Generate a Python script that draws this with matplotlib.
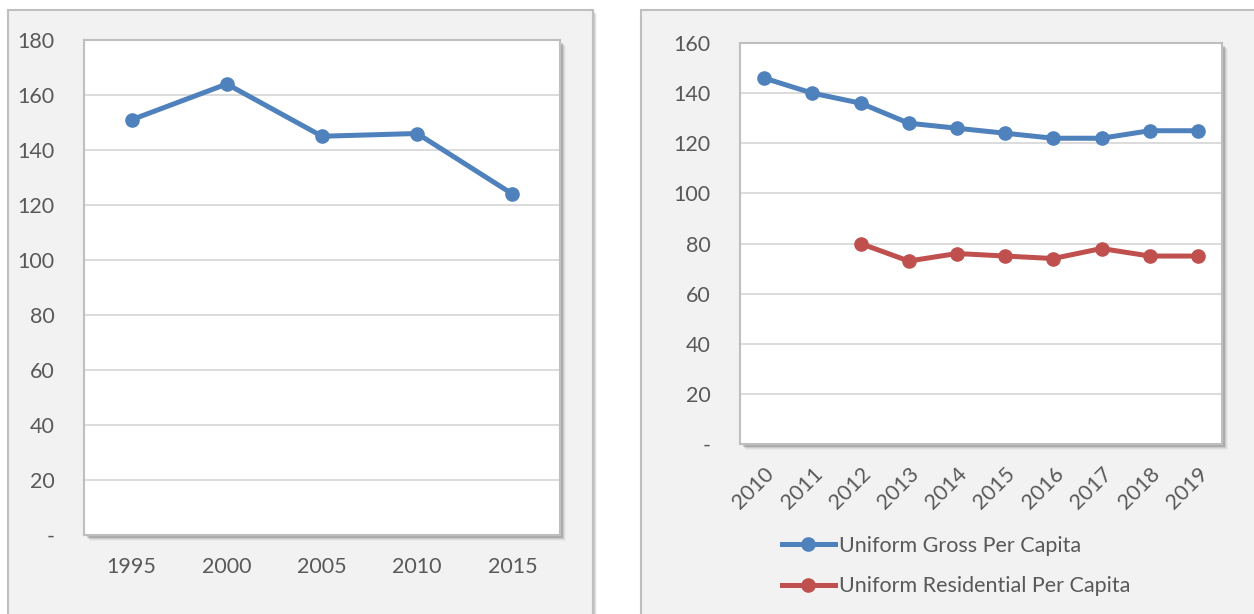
import matplotlib
matplotlib.use('Agg')
import matplotlib.pyplot as plt
from matplotlib.patches import Rectangle

# Dados
anos_esq = ['1995', '2000', '2005', '2010', '2015']
valores_esq = [151, 164, 145, 146, 124]

anos_dir = ['2010', '2011', '2012', '2013', '2014', '2015', '2016', '2017', '2018', '2019']
bruto_per_capita = [146, 140, 136, 128, 126, 124, 122, 122, 125, 125]
residencial_per_capita = [None, None, 80, 73, 76, 75, 74, 78, 75, 75]

W, H = 1254, 614
AZUL = '#4f81bd'
VERMELHO = '#c0504d'
TEXTO = '#595959'

plt.rcParams['font.family'] = ['Lato', 'DejaVu Sans']

fig = plt.figure(figsize=(W / 100, H / 100), dpi=100)
fig.patch.set_facecolor('white')


def px_rect(x0, y0, x1, y1):
    # converte pixels (origem no topo) para coordenadas da figura
    return [x0 / W, 1 - y1 / H, (x1 - x0) / W, (y1 - y0) / H]


def painel(x0, y0, x1, y1):
    # sombra e caixa do painel
    l, b, w, h = px_rect(x0, y0, x1, y1)
    for i, a in enumerate([0.10, 0.07, 0.04]):
        fig.patches.append(Rectangle((l + (i + 2) / W, b - (i + 2) / H), w, h,
                                     transform=fig.transFigure, facecolor='black',
                                     alpha=a, edgecolor='none', zorder=0))
    fig.patches.append(Rectangle((l, b), w, h, transform=fig.transFigure,
                                 facecolor='#f2f2f2', edgecolor='#bfbfbf',
                                 linewidth=1.5, zorder=1))


painel(8, 10, 593, 620)
painel(641, 10, 1265, 620)


def eixo(x0, y0, x1, y1):
    l, b, w, h = px_rect(x0, y0, x1, y1)
    for i, a in enumerate([0.14, 0.09, 0.05, 0.03]):
        fig.patches.append(Rectangle((l + (i + 3) / W, b - (i + 3) / H), w, h,
                                     transform=fig.transFigure, facecolor='black',
                                     alpha=a, edgecolor='none', zorder=2))
    ax = fig.add_axes([l, b, w, h], zorder=3)
    ax.set_facecolor('white')
    for s in ax.spines.values():
        s.set_color('#bfbfbf')
        s.set_linewidth(1.5)
    ax.grid(True, axis='y', color='#d9d9d9', linewidth=1.3)
    ax.set_axisbelow(True)
    ax.tick_params(length=0, colors=TEXTO, labelsize=15.5)
    return ax


def rotulo_y(v):
    return '-' if v == 0 else str(v)


# Painel esquerdo
ax1 = eixo(84, 40, 560, 535)
x1 = list(range(len(anos_esq)))
ax1.plot(x1, valores_esq, color=AZUL, linewidth=3.6, marker='o', markersize=9.5)
ax1.set_xlim(-0.5, len(anos_esq) - 0.5)
ax1.set_ylim(0, 180)
ticks1 = list(range(0, 181, 20))
ax1.set_yticks(ticks1)
ax1.set_yticklabels([rotulo_y(t) for t in ticks1])
ax1.set_xticks(x1)
ax1.set_xticklabels(anos_esq)
ax1.tick_params(axis='y', pad=21)
ax1.tick_params(axis='x', pad=16)

# Painel direito
ax2 = eixo(740, 43, 1222, 444)
x2 = list(range(len(anos_dir)))
g1, = ax2.plot(x2, bruto_per_capita, color=AZUL, linewidth=3.6, marker='o', markersize=9.5,
               label='Uniform Gross Per Capita')
xr = [x for x, v in zip(x2, residencial_per_capita) if v is not None]
vr = [v for v in residencial_per_capita if v is not None]
g2, = ax2.plot(xr, vr, color=VERMELHO, linewidth=3.6, marker='o', markersize=9.5,
               label='Uniform Residential Per Capita')
ax2.set_xlim(-0.5, len(anos_dir) - 0.5)
ax2.set_ylim(0, 160)
ticks2 = list(range(0, 161, 20))
ax2.set_yticks(ticks2)
ax2.set_yticklabels([rotulo_y(t) for t in ticks2])
ax2.set_xticks(x2)
ax2.set_xticklabels(anos_dir, rotation=45, ha='right', rotation_mode='anchor')
ax2.tick_params(axis='y', pad=21)
ax2.tick_params(axis='x', pad=14)

leg = fig.legend(handles=[g1, g2], loc='upper left',
                 bbox_to_anchor=(782 / W, 1 - 536 / H), frameon=False,
                 borderpad=0, borderaxespad=0,
                 fontsize=15.5, handlelength=2.45, handletextpad=0.22,
                 labelspacing=0.95, labelcolor=TEXTO)

plt.savefig('out.png', dpi=100, facecolor=fig.get_facecolor())
